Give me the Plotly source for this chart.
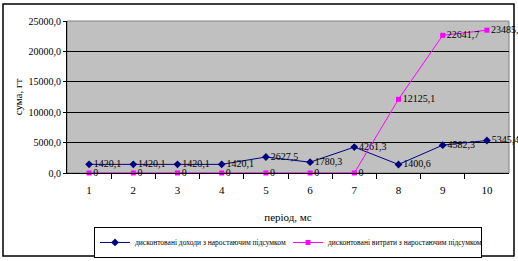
import plotly.graph_objects as go

periods = [1, 2, 3, 4, 5, 6, 7, 8, 9, 10]
income = [1420.1, 1420.1, 1420.1, 1420.1, 2627.5, 1780.3, 4261.3, 1400.6, 4582.3, 5345.4]
costs = [0, 0, 0, 0, 0, 0, 0, 12125.1, 22641.7, 23485.5]
y_ticks = [0, 5000, 10000, 15000, 20000, 25000]
name_income = "дисконтовані доходи з наростаючим підсумком"
name_costs = "дисконтовані витрати з наростаючим підсумком"


def fmt(v):
    return "0" if v == 0 else f"{v:.1f}".replace(".", ",")


FONT = "Liberation Serif"

fig = go.Figure()
fig.add_trace(go.Scatter(
    x=periods, y=income, name=name_income, mode="lines+markers+text",
    line=dict(color="#000080", width=1),
    marker=dict(symbol="diamond", size=6, color="#000080"),
    text=[fmt(v) for v in income], textposition="middle right",
    textfont=dict(family=FONT, size=10, color="black"), cliponaxis=False,
))
fig.add_trace(go.Scatter(
    x=periods, y=costs, name=name_costs, mode="lines+markers+text",
    line=dict(color="#FF00FF", width=1),
    marker=dict(symbol="square", size=5, color="#FF00FF"),
    text=[fmt(v) for v in costs], textposition="middle right",
    textfont=dict(family=FONT, size=10, color="black"), cliponaxis=False,
))

fig.update_layout(
    width=518, height=261,
    margin=dict(l=67, r=9, t=21, b=88, autoexpand=False),
    paper_bgcolor="white", plot_bgcolor="#C0C0C0",
    separators=", ",
    font=dict(family=FONT, size=10, color="black"),
    showlegend=True,
    legend=dict(
        orientation="h", x=0.5, xanchor="center", y=-0.355, yanchor="top",
        bgcolor="white", bordercolor="black", borderwidth=1,
        font=dict(family=FONT, size=7.5), itemwidth=30, tracegroupgap=0,
        entrywidth=148, entrywidthmode="pixels",
    ),
    xaxis=dict(
        range=[0.5, 10.5], tickmode="array", tickvals=periods,
        ticktext=[str(p) for p in periods],
        showgrid=False, zeroline=False,
        showline=True, linecolor="black", linewidth=1,
        ticks="", tickfont=dict(size=11), ticklabelstandoff=7,
        title=dict(text="період, мс", font=dict(size=11), standoff=18),
        minor=dict(tickvals=[p + 0.5 for p in periods[:-1]], ticks="outside",
                   ticklen=5, tickcolor="black", showgrid=False),
    ),
    yaxis=dict(
        range=[0, 25000], tickvals=y_ticks, tickformat=".1f",
        showgrid=True, gridcolor="black", gridwidth=1, zeroline=False,
        showline=True, linecolor="black", linewidth=1,
        ticks="outside", ticklen=3, tickcolor="black",
        tickfont=dict(size=10),
        title=dict(text="сума, гт", font=dict(size=11), standoff=3),
    ),
    shapes=[
        dict(type="rect", xref="paper", yref="paper", x0=0, x1=1, y0=0, y1=1,
             line=dict(color="#808080", width=1), layer="below"),
        dict(type="rect", xref="paper", yref="paper",
             x0=-64 / 442, x1=1 + 5 / 442, y0=-83 / 152, y1=1 + 17 / 152,
             line=dict(color="black", width=1.5)),
    ],
)

fig.write_html("out.html")
